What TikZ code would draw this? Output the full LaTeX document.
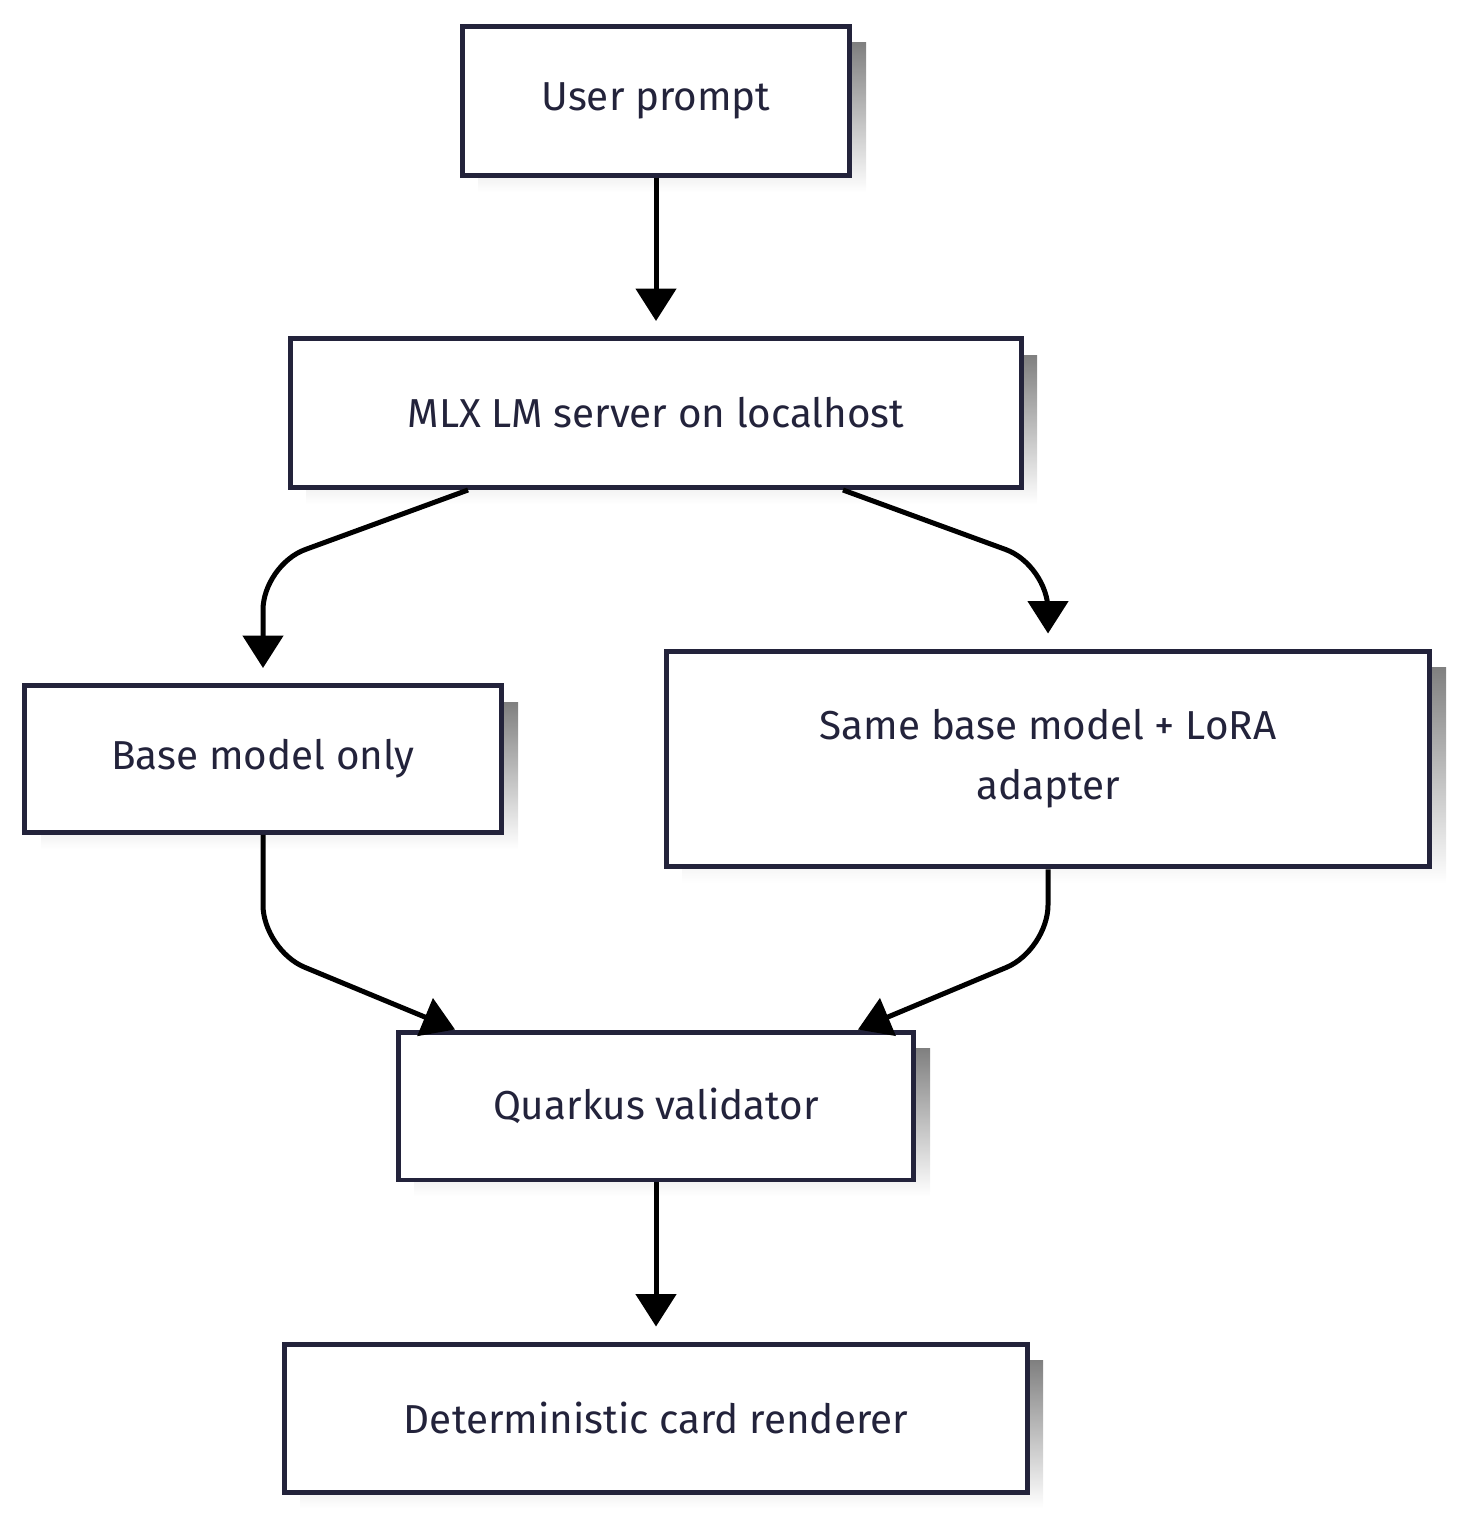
\documentclass[tikz,border=0pt]{standalone}
\usepackage{fontspec}
\setmainfont{Fira Sans}
\usetikzlibrary{arrows.meta}
\definecolor{boxline}{HTML}{23233B}
\definecolor{shade}{HTML}{EBEBEB}
\tikzset{
  box/.style={draw=boxline, line width=0.1cm, fill=white, text=boxline, align=center,
    font=\fontsize{23}{34}\selectfont, inner sep=0pt},
  edge/.style={line width=0.1cm, -{Triangle[width=0.8cm,length=0.65cm]}, rounded corners=0.9cm, shorten >=0.3cm}
}
\begin{document}
\begin{tikzpicture}[x=0.02cm, y=-0.02cm]
\useasboundingbox (0,0) rectangle (1456,1520);

% shadows
\foreach \a/\b/\c/\d in {462/27/850/176, 290/339/1021/488, 25/686/502/833,
  666/651/1430/867, 398/1032/914/1180, 284/1344/1027/1492}
  \fill [shade] (\a+16,\b+16) rectangle (\c+16,\d+16);

\node [box, minimum width=7.76cm, minimum height=2.98cm] (prompt) at (656,101) {User prompt};
\node [box, minimum width=14.62cm, minimum height=2.98cm] (mlx) at (656,413) {MLX LM server on localhost};
\node [box, minimum width=9.54cm, minimum height=2.94cm] (base) at (263,759) {Base model only};
\node [box, minimum width=15.28cm, minimum height=4.32cm] (lora) at (1048,759) {Same base model + LoRA\\adapter};
\node [box, minimum width=10.32cm, minimum height=2.96cm] (valid) at (656,1106) {Quarkus validator};
\node [box, minimum width=14.86cm, minimum height=2.96cm] (render) at (656,1418) {Deterministic card renderer};

\draw [edge] (prompt) -- (mlx);
\draw [edge] ([xshift=-3.76cm]mlx.south) -- (263,565) -- (base.north);
\draw [edge] ([xshift=3.74cm]mlx.south) -- (1048,565) -- (lora.north);
\draw [edge, shorten >=0pt] (base.south) -- (263,950) -- ([xshift=-4.02cm]valid.north);
\draw [edge, shorten >=0pt] (lora.south) -- (1048,950) -- ([xshift=4.04cm]valid.north);
\draw [edge] (valid) -- (render);
\end{tikzpicture}
\end{document}
